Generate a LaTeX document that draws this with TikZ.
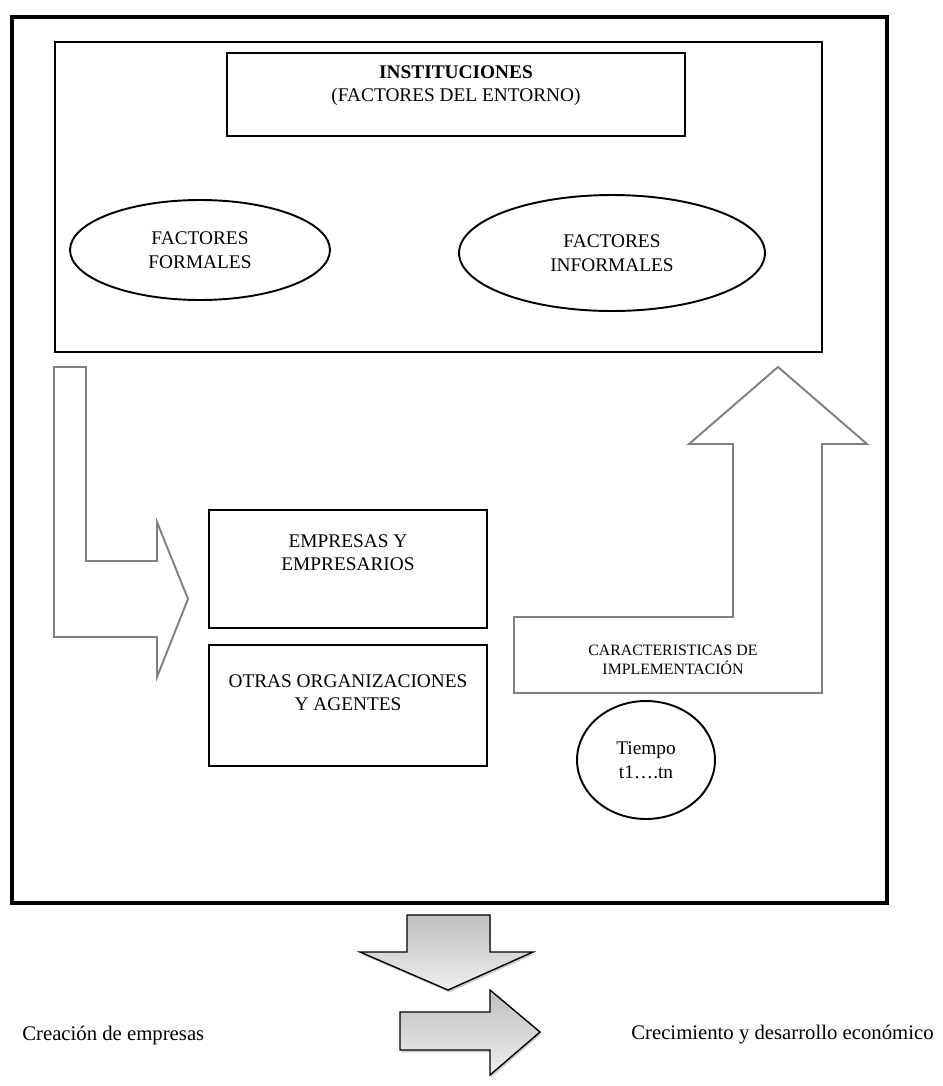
\documentclass[tikz,border=0pt]{standalone}
\usepackage{fontspec}
\setmainfont{Liberation Serif}
\usetikzlibrary{shapes.geometric,positioning,shadows}
\tikzset{
  caja/.style={draw,line width=1.2pt,minimum width=5.56cm},
  elipse/.style={draw,ellipse,line width=1.1pt},
  flechagris/.style={draw=gray,line width=1.1pt,line join=miter},
  flechasombra/.style={draw,line width=0.8pt,top color=gray!50,bottom color=blue!6!gray!12,
    drop shadow={shadow xshift=0.7pt,shadow yshift=-1.3pt,fill=gray!80}},
  texto/.style={align=center,font=\fontsize{11}{13.5}\selectfont,inner sep=0pt},
  pie/.style={anchor=west,inner sep=0pt,font=\fontsize{11.8}{14}\selectfont}
}
\begin{document}
\begin{tikzpicture}[x=0.02cm,y=-0.02cm]
\useasboundingbox (0,0) rectangle (943,1086);
% marcos
\draw[line width=2.8pt] (12,17) rectangle (887,903);
\draw[line width=1.4pt] (55,42) rectangle (822,352);
\node[draw,line width=0.7pt,minimum width=9.16cm,minimum height=1.66cm] (inst) at (456,94.5) {};
\node[texto,below=0.25cm of inst.north] (insttxt) {\textbf{INSTITUCIONES}\\(FACTORES DEL ENTORNO)};
% factores
\node[elipse,texto,minimum width=5.2cm,minimum height=2cm] (formales) at (200,250) {FACTORES\\FORMALES};
\node[elipse,texto,minimum width=6.12cm,minimum height=2.32cm] (informales) at (612,253) {FACTORES\\INFORMALES};
% flechas grises
\draw[flechagris] (54,367) -- (86,367) -- (86,561) -- (157,561) -- (157,522) -- (188,599)
  -- (157,677) -- (157,637) -- (54,637) -- cycle;
\draw[flechagris] (514,617) -- (733,617) -- (733,444) -- (689,444) -- (778,367) -- (867,444)
  -- (822,444) -- (822,693) -- (514,693) -- cycle;
\node[texto,font=\fontsize{9}{11}\selectfont] (caract) at (673,660) {CARACTERISTICAS DE\\IMPLEMENTACIÓN};
% agentes
\node[caja,minimum height=2.36cm] (empresas) at (348,569) {};
\node[texto,below=0.5cm of empresas.north] (emptxt) {EMPRESAS Y\\EMPRESARIOS};
\node[caja,minimum height=2.42cm] (otras) at (348,705.5) {};
\node[texto,below=0.6cm of otras.north] (otrastxt) {OTRAS ORGANIZACIONES\\Y AGENTES};
\node[elipse,texto,minimum width=2.76cm,minimum height=2.36cm] (tiempo) at (646,760) {Tiempo\\t1….tn};
% resultado
\draw[flechasombra] (407,915) -- (490,915) -- (490,952) -- (533,952) -- (448,990) -- (360,952)
  -- (407,952) -- cycle;
\draw[flechasombra] (400,1012) -- (490,1012) -- (490,990) -- (540,1032) -- (490,1075)
  -- (490,1050) -- (400,1050) -- cycle;
\node[pie] (creacion) at (22,1035) {Creación de empresas};
\node[pie] (crecim) at (631,1035) {Crecimiento y desarrollo económico};
\end{tikzpicture}
\end{document}
